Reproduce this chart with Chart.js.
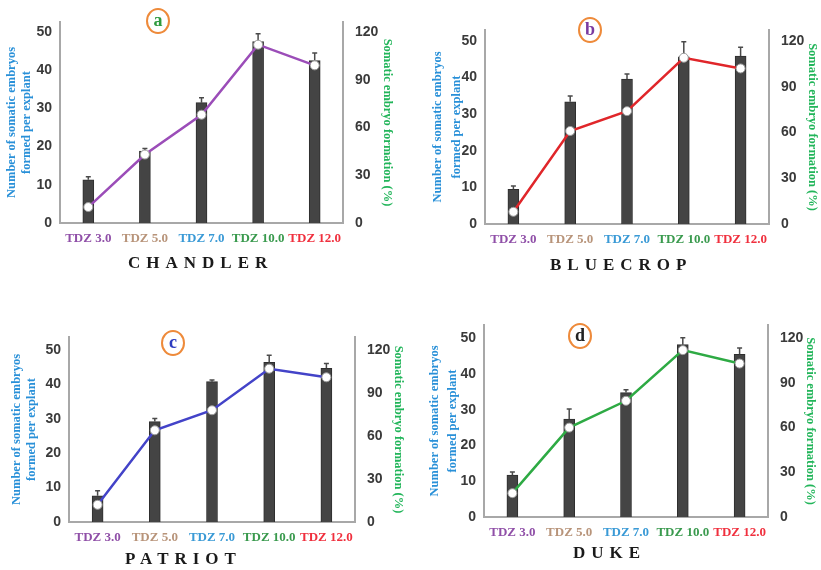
<!DOCTYPE html>
<html>
<head>
<meta charset="utf-8">
<script src="https://cdn.jsdelivr.net/npm/chart.js@4.4.1/dist/chart.umd.min.js"></script>
<style>
  body { margin: 0; background: #fff; width: 821px; height: 570px; position: relative; overflow: hidden; }
  .panel { position: absolute; }
  .name { position: absolute; font: bold 17px "Liberation Serif"; letter-spacing: 6px; color: #1a1a1a; white-space: nowrap; line-height: 18px; }
  .tag { position: absolute; width: 20px; height: 22px; border: 2px solid #ee8a3a; border-radius: 50%;
         font: bold 18px "Liberation Serif"; text-align: center; line-height: 21px; transform: translate(-50%, -50%); }
</style>
</head>
<body>
<script>
const categories = ["TDZ 3.0", "TDZ 5.0", "TDZ 7.0", "TDZ 10.0", "TDZ 12.0"];
const categoryColors = ["#9050a8", "#b8947a", "#3a9ad6", "#3a9a4e", "#f0303e"];
const embryoTicks = [0, 10, 20, 30, 40, 50];
const formationTicks = [0, 30, 60, 90, 120];

// number of somatic embryos per explant (bars), their error and formation % (line)
const chandlerEmbryos = [11.3, 18.8, 31.5, 47.5, 42.5];
const chandlerSe = [0.8, 0.7, 1.3, 2.0, 2.0];
const chandlerFormation = [10, 43, 68, 112, 99];

const bluecropEmbryos = [9.5, 33.4, 39.6, 45.7, 45.9];
const bluecropSe = [0.9, 1.6, 1.4, 4.1, 2.4];
const bluecropFormation = [8, 61, 74, 109, 102];

const patriotEmbryos = [7.6, 29.2, 40.8, 46.4, 44.7];
const patriotSe = [1.5, 0.9, 0.5, 2.1, 1.4];
const patriotFormation = [12, 64, 78, 107, 101];

const dukeEmbryos = [11.7, 27.4, 34.8, 48.2, 45.5];
const dukeSe = [0.9, 2.8, 0.8, 1.9, 1.8];
const dukeFormation = [16, 60, 78, 112, 103];

const panels = [
    { tag: "a", tagColor: "#2e9a3e", tagAt: [158, 21], name: "CHANDLER", nameAt: [128, 254],
      embryos: chandlerEmbryos, se: chandlerSe, formation: chandlerFormation, line: "#9b4db8",
      box: [0, 0, 410, 285], area: [60, 22, 343, 223], yMax: 52.6, leftX: 12, gap: 15, rightX: 387 },
    { tag: "b", tagColor: "#7a3aa0", tagAt: [590, 30], name: "BLUECROP", nameAt: [550, 256],
      embryos: bluecropEmbryos, se: bluecropSe, formation: bluecropFormation, line: "#e0262a",
      box: [410, 0, 411, 285], area: [75, 30, 359, 224], yMax: 53.0, leftX: 28, gap: 19, rightX: 402 },
    { tag: "c", tagColor: "#2d3cc0", tagAt: [173, 343], name: "PATRIOT", nameAt: [125, 550],
      embryos: patriotEmbryos, se: patriotSe, formation: patriotFormation, line: "#4343c8",
      box: [0, 285, 410, 285], area: [69, 52, 355, 237], yMax: 53.8, leftX: 17, gap: 15, rightX: 398 },
    { tag: "d", tagColor: "#222222", tagAt: [580, 336], name: "DUKE", nameAt: [573, 544],
      embryos: dukeEmbryos, se: dukeSe, formation: dukeFormation, line: "#2eaa44",
      box: [410, 285, 411, 285], area: [74, 40, 358, 232], yMax: 53.7, leftX: 25, gap: 18, rightX: 400 }
];

const errorBars = {
    id: "errorBars",
    afterDatasetDraw(chart, args, opts) {
        if (args.index !== 0) return;
        const ctx = chart.ctx;
        const y = chart.scales.y;
        const values = chart.data.datasets[0].data;
        ctx.save();
        ctx.strokeStyle = "#4a4a4a";
        ctx.lineWidth = 1.5;
        args.meta.data.forEach((bar, i) => {
            const top = y.getPixelForValue(values[i] + opts.se[i]);
            ctx.beginPath();
            ctx.moveTo(bar.x, bar.y);
            ctx.lineTo(bar.x, top);
            ctx.moveTo(bar.x - 2.5, top);
            ctx.lineTo(bar.x + 2.5, top);
            ctx.stroke();
        });
        ctx.restore();
    }
};

const axisBorder = { color: "#a8a8a8", width: 2 };
const noGrid = { display: false, drawTicks: false };
const numFont = { family: "Liberation Sans", weight: "bold", size: 14 };
const titleFont = { family: "Liberation Serif", weight: "bold", size: 12.5 };

panels.forEach(p => {
    const [bx, by, bw, bh] = p.box;
    const [al, at, ar, ab] = p.area;

    const div = document.createElement("div");
    div.className = "panel";
    div.style.cssText = `left:${bx}px;top:${by}px;width:${bw}px;height:${bh}px`;
    const canvas = document.createElement("canvas");
    canvas.width = bw;
    canvas.height = bh;
    div.appendChild(canvas);
    document.body.appendChild(div);

    const name = document.createElement("div");
    name.className = "name";
    name.textContent = p.name;
    name.style.left = p.nameAt[0] + "px";
    name.style.top = p.nameAt[1] + "px";
    document.body.appendChild(name);

    const tag = document.createElement("div");
    tag.className = "tag";
    tag.textContent = p.tag;
    tag.style.color = p.tagColor;
    tag.style.left = p.tagAt[0] + "px";
    tag.style.top = p.tagAt[1] + "px";
    document.body.appendChild(tag);

    new Chart(canvas, {
        data: {
            labels: categories,
            datasets: [{
                type: "bar",
                label: "Number of somatic embryos",
                data: p.embryos,
                backgroundColor: "#444444",
                borderColor: "#2e2e2e",
                borderWidth: 1,
                barThickness: 11,
                yAxisID: "y",
                order: 2
            }, {
                type: "line",
                label: "Somatic embryo formation (%)",
                data: p.formation,
                borderColor: p.line,
                borderWidth: 2.5,
                pointRadius: 4.5,
                pointBackgroundColor: "#ffffff",
                pointBorderColor: "#9a9a9a",
                pointBorderWidth: 1,
                yAxisID: "y1",
                order: 1
            }]
        },
        options: {
            responsive: false,
            animation: false,
            layout: { padding: { top: at, left: 0, right: 0, bottom: 0 } },
            plugins: {
                legend: { display: false },
                tooltip: { enabled: false },
                errorBars: { se: p.se }
            },
            scales: {
                x: {
                    offset: true,
                    grid: noGrid,
                    border: axisBorder,
                    ticks: {
                        autoSkip: false, maxRotation: 0, padding: 8,
                        font: { family: "Liberation Serif", weight: "bold", size: 13 },
                        color: c => categoryColors[c.index]
                    },
                    afterFit: s => { s.height = bh - ab; }
                },
                y: {
                    position: "left",
                    min: 0, max: p.yMax,
                    grid: noGrid,
                    border: axisBorder,
                    ticks: { padding: 8, font: numFont, color: "#3a3a3a" },
                    afterBuildTicks: s => { s.ticks = embryoTicks.map(v => ({ value: v })); },
                    afterFit: s => { s.width = al; },
                    title: {
                        display: true,
                        text: ["Number of somatic embryos", "formed per explant"],
                        color: "#2990d8",
                        font: Object.assign({}, titleFont, { lineHeight: p.gap + "px" }),
                        padding: { top: p.leftX - p.gap / 2, bottom: 0 }
                    }
                },
                y1: {
                    position: "right",
                    min: 0, max: p.yMax * 2.4,
                    grid: noGrid,
                    border: axisBorder,
                    ticks: { padding: 12, font: numFont, color: "#3a3a3a" },
                    afterBuildTicks: s => { s.ticks = formationTicks.map(v => ({ value: v })); },
                    afterFit: s => { s.width = bw - ar; },
                    title: {
                        display: true,
                        text: "Somatic embryo formation (%)",
                        color: "#22b55a",
                        font: Object.assign({}, titleFont, { lineHeight: "15px" }),
                        padding: { top: bw - p.rightX - 7.5, bottom: 0 }
                    }
                }
            }
        },
        plugins: [errorBars]
    });
});
</script>
</body>
</html>
